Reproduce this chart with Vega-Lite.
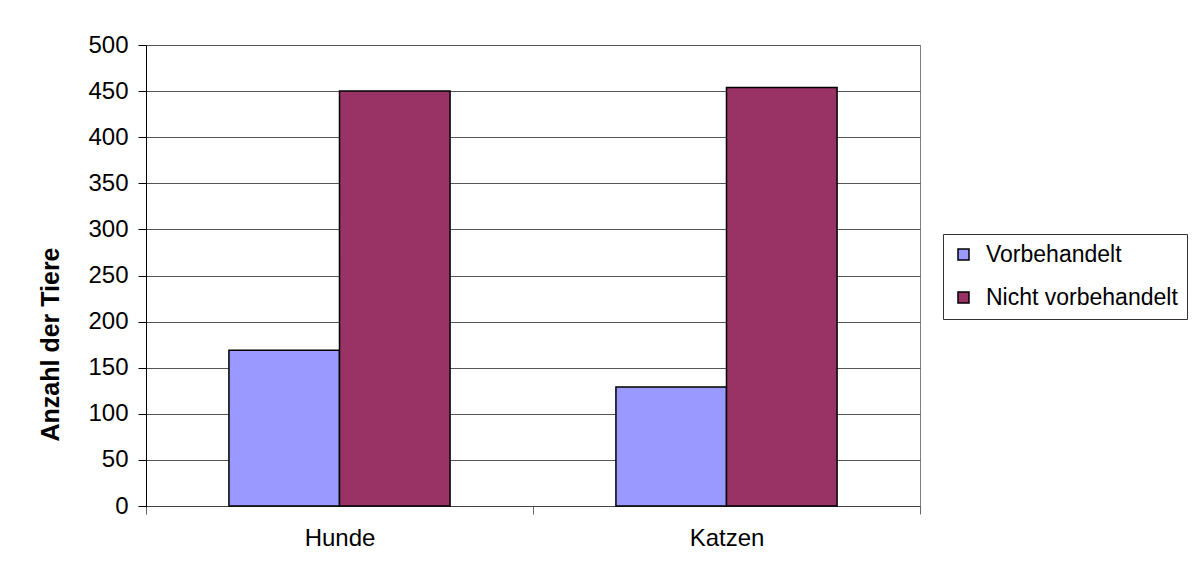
{
  "$schema": "https://vega.github.io/schema/vega-lite/v6.json",
  "autosize": "none",
  "width": 774,
  "height": 461,
  "padding": {"left": 146, "top": 45, "right": 272, "bottom": 78},
  "background": "white",
  "config": {
    "font": "Liberation Sans",
    "view": {"stroke": "#808080", "strokeWidth": 1}
  },
  "data": {
    "values": [
      {"Tierart": "Hunde", "Gruppe": "Vorbehandelt", "Anzahl": 169},
      {"Tierart": "Hunde", "Gruppe": "Nicht vorbehandelt", "Anzahl": 450},
      {"Tierart": "Katzen", "Gruppe": "Vorbehandelt", "Anzahl": 129},
      {"Tierart": "Katzen", "Gruppe": "Nicht vorbehandelt", "Anzahl": 454}
    ]
  },
  "mark": {"type": "bar", "stroke": "black", "strokeWidth": 1.5},
  "encoding": {
    "x": {
      "field": "Tierart",
      "type": "nominal",
      "scale": {"paddingInner": 0, "paddingOuter": 0},
      "axis": {
        "title": null,
        "labelAngle": 0,
        "labelFontSize": 24,
        "labelColor": "black",
        "labelPadding": 12,
        "tickBand": "extent",
        "tickSize": 8,
        "tickColor": "#666",
        "domainColor": "#444",
        "grid": false
      }
    },
    "xOffset": {
      "field": "Gruppe",
      "type": "nominal",
      "sort": ["Vorbehandelt", "Nicht vorbehandelt"],
      "scale": {"paddingInner": 0, "paddingOuter": 0.75}
    },
    "y": {
      "field": "Anzahl",
      "type": "quantitative",
      "scale": {"domain": [0, 500], "nice": false},
      "axis": {
        "title": "Anzahl der Tiere",
        "titleFontSize": 25,
        "titleFontWeight": "bold",
        "titleColor": "black",
        "titleX": -83,
        "titleY": 299,
        "values": [0, 50, 100, 150, 200, 250, 300, 350, 400, 450, 500],
        "labelFontSize": 24,
        "labelColor": "black",
        "labelPadding": 10,
        "tickSize": 8,
        "tickColor": "black",
        "domainColor": "black",
        "gridColor": "#555",
        "gridWidth": 1
      }
    },
    "color": {
      "field": "Gruppe",
      "type": "nominal",
      "sort": ["Vorbehandelt", "Nicht vorbehandelt"],
      "scale": {"domain": ["Vorbehandelt", "Nicht vorbehandelt"], "range": ["#9999FF", "#993366"]},
      "legend": {
        "title": null,
        "orient": "none",
        "legendX": 797,
        "legendY": 189,
        "strokeColor": "#333",
        "fillColor": "white",
        "padding": 9,
        "symbolType": "square",
        "symbolSize": 121,
        "symbolStrokeColor": "black",
        "symbolStrokeWidth": 1.5,
        "labelFontSize": 23,
        "labelLimit": 400,
        "labelColor": "black",
        "labelOffset": 11,
        "rowPadding": 19
      }
    }
  }
}
